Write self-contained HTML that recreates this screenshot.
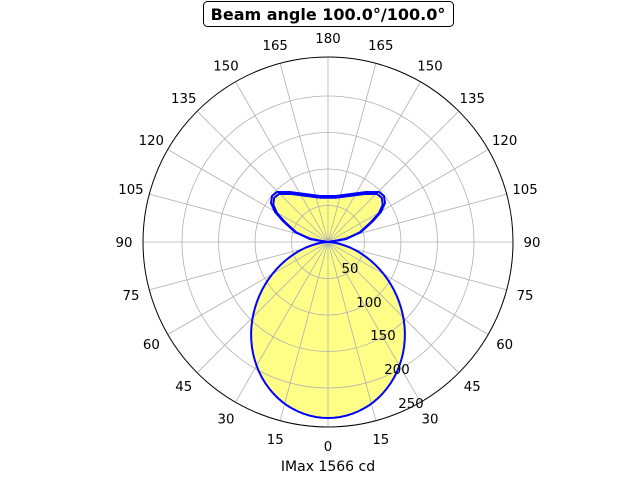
<!DOCTYPE html>
<html><head><meta charset="utf-8"><style>
html,body{margin:0;padding:0;background:#fff;width:640px;height:480px;overflow:hidden}
svg text{font-family:"DejaVu Sans","Liberation Sans",sans-serif;font-size:13.3px;fill:#000}
</style></head><body>
<svg id="s" width="640" height="480" viewBox="0 0 640 480" xmlns="http://www.w3.org/2000/svg">
<g id="fills"></g>
<g id="grid" stroke="#b0b0b0" stroke-width="0.8" fill="none"></g>
<g id="lobes"></g>
<circle cx="328" cy="242" r="185" fill="none" stroke="#000" stroke-width="1"/>
<g id="labels" text-anchor="middle"></g>
<text x="350" y="273" text-anchor="middle">50</text>
<text x="369" y="307" text-anchor="middle">100</text>
<text x="383" y="340" text-anchor="middle">150</text>
<text x="397" y="374" text-anchor="middle">200</text>
<text x="411" y="408" text-anchor="middle">250</text>
<rect x="203.5" y="1.5" width="250" height="25" rx="4" fill="#fff" stroke="#000" stroke-width="1"/>
<text x="328" y="20" text-anchor="middle" style="font-size:16px;font-weight:bold">Beam angle 100.0°/100.0°</text>
<text x="328" y="471" text-anchor="middle" style="font-size:14px">IMax 1566 cd</text>
</svg>
<script>
var NS="http://www.w3.org/2000/svg",cx=328,cy=242;
var g=document.getElementById('grid'),L=document.getElementById('labels'),lo=document.getElementById('lobes'),fi=document.getElementById('fills');
function el(p,t,a){var e=document.createElementNS(NS,t);for(var k in a)e.setAttribute(k,a[k]);p.appendChild(e);return e;}
[36.5,73,109.5,146].forEach(function(r){el(g,'circle',{cx:cx,cy:cy,r:r});});
for(var a=0;a<360;a+=15){var t=a*Math.PI/180;
 el(g,'line',{x1:cx,y1:cy,x2:cx+185*Math.sin(t),y2:cy+185*Math.cos(t)});
 var lab=a<=180?a:360-a;var x=cx+204*Math.sin(t),y=cy+204*Math.cos(t)+5;
 var tx=el(L,'text',{x:x,y:y});tx.textContent=lab;}
var pts=[];for(var d=-90;d<=90;d+=2){var t=d*Math.PI/180;var r=176*Math.pow(Math.cos(t),1.45);pts.push((cx+r*Math.sin(t)).toFixed(1)+','+(cy+r*Math.cos(t)).toFixed(1));}
var P=pts.join(' ');
el(fi,'polygon',{points:P,fill:'#ffff88',stroke:'none'});
el(lo,'polygon',{points:P,fill:'none',stroke:'blue','stroke-width':2});
var left=[[328,242],[310,239],[295,232],[283,221],[275,212],[271,203],[272,196],[277,192],[290,192],[305,194],[320,196],[328,196]];
function mk(dx,dy,sc){var a=left.map(function(p){return [cx+(p[0]-cx)*sc+dx,cy+(p[1]-cy)*sc+dy];});
 var b=left.slice(0,-1).reverse().map(function(p){return [cx-(p[0]-cx)*sc+dx,cy+(p[1]-cy)*sc+dy];});
 return a.concat(b).map(function(p){return p[0].toFixed(1)+','+p[1].toFixed(1);}).join(' ');}
el(fi,'polygon',{points:mk(0,0,1),fill:'#ffff88',stroke:'none'});
el(lo,'polygon',{points:mk(0,0,1),fill:'none',stroke:'blue','stroke-width':2});
el(lo,'polygon',{points:mk(0,0,0.96),fill:'none',stroke:'blue','stroke-width':2});
</script>
</body></html>
